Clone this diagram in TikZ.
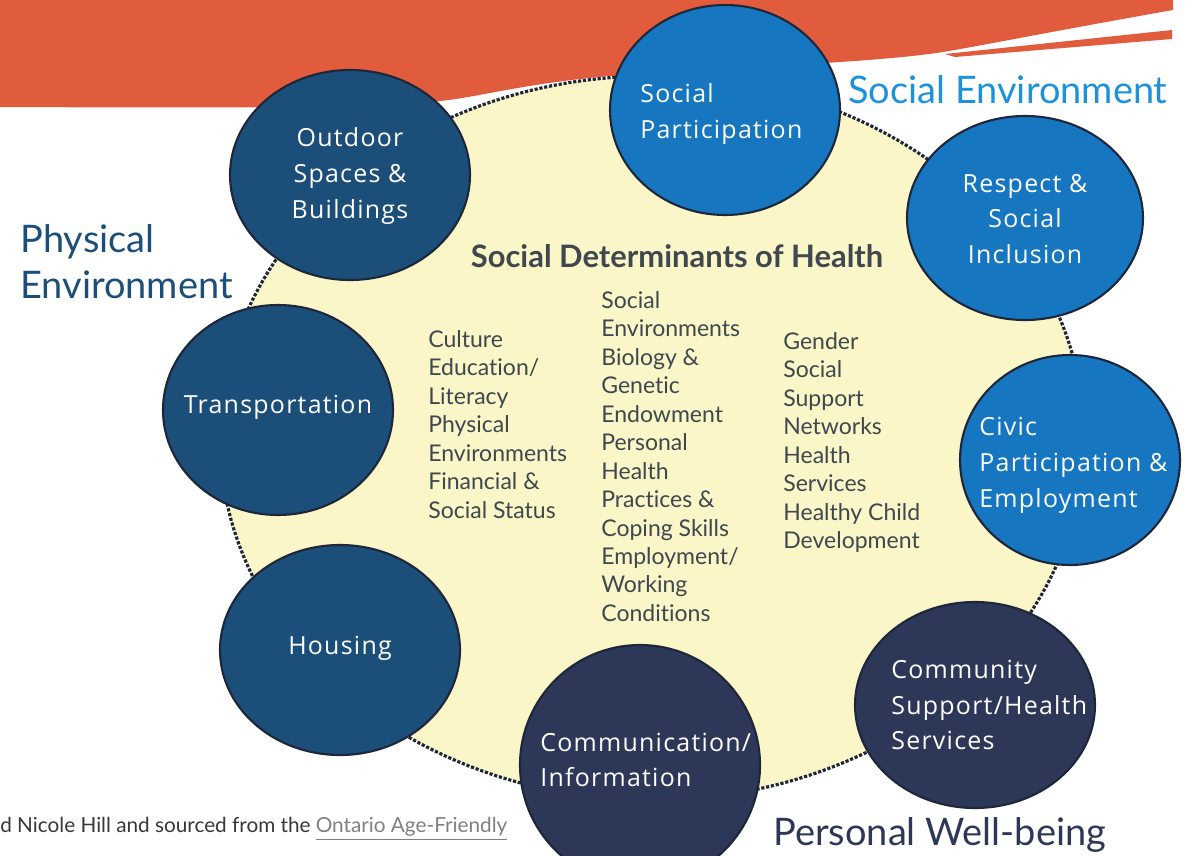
\documentclass[tikz,border=0pt]{standalone}
\usepackage{fontspec}
\setmainfont{Lato}[Ligatures=NoCommon]
\newfontfamily\ringfont[LetterSpace=5]{Open Sans}
\usepackage{tikz}
\usepackage{xcolor}
\definecolor{banner}{RGB}{224,92,60}
\definecolor{paleyellow}{RGB}{250,246,200}
\definecolor{physblue}{RGB}{28,78,122}
\definecolor{socblue}{RGB}{22,118,192}
\definecolor{navy}{RGB}{45,56,88}
\definecolor{rimdark}{RGB}{30,38,58}
\definecolor{slate}{RGB}{62,72,78}
\definecolor{skyline}{RGB}{30,145,220}
\definecolor{notegrey}{RGB}{55,55,55}

\tikzset{
  ring/.style={draw=rimdark,line width=1.2},
  ringtext/.style={text=white,inner sep=0,font=\ringfont\fontsize{14.2}{20.4}\selectfont},
  coltext/.style={text=slate,inner sep=0,anchor=north west,align=left,
    font=\fontsize{13.1}{16.2}\selectfont},
  grouptext/.style={inner sep=0,anchor=west,align=left,font=\fontsize{21.6}{26}\selectfont}
}

\begin{document}
\begin{tikzpicture}[x=0.02cm,y=-0.02cm]
  \useasboundingbox (0,0) rectangle (1189,855);
  \clip (0,0) rectangle (1189,855);
  % banner across the top
  \fill[banner] (0,0) -- (1173,0) -- (1173,10)
    .. controls (1060,30) and (990,44) .. (943,52)
    .. controls (880,62) and (760,66) .. (610,76)
    .. controls (520,84) and (480,97) .. (440,101)
    .. controls (360,108) and (250,108) .. (0,107) -- cycle;
  \fill[banner] (945,54) -- (1172,30) -- (1172,39) -- (955,57) -- cycle;

  % the determinants field
  \fill[paleyellow] (652,438) ellipse [x radius=432,y radius=362];
  \draw[rimdark,densely dotted,line width=1.8] (652,438) ellipse [x radius=432,y radius=362];

  % physical environment
  \filldraw[ring,fill=physblue] (350,175) ellipse [x radius=120,y radius=105];
  \filldraw[ring,fill=physblue] (278,410) ellipse [x radius=115,y radius=105];
  \filldraw[ring,fill=physblue] (340,650) ellipse [x radius=120,y radius=105];
  % social environment
  \filldraw[ring,fill=socblue] (725,110) ellipse [x radius=115,y radius=105];
  \filldraw[ring,fill=socblue] (1025,218) ellipse [x radius=118,y radius=102];
  \filldraw[ring,fill=socblue] (1070,460) ellipse [x radius=110,y radius=105];
  % personal well-being
  \filldraw[ring,fill=navy] (975,705) ellipse [x radius=120,y radius=103];
  \filldraw[ring,fill=navy] (640,765) ellipse [x radius=120,y radius=120];

  \node[ringtext,align=center] (outdoor) at (350,176) {Outdoor\\Spaces \&\\Buildings};
  \node[ringtext,align=center] (transport) at (278,407) {Transportation};
  \node[ringtext,align=center] (housing) at (340,648) {Housing};
  \node[ringtext,align=left,anchor=west] (participation) at (640,114) {Social\\Participation};
  \node[ringtext,align=center] (respect) at (1025,219) {Respect \&\\Social\\Inclusion};
  \node[ringtext,align=left,anchor=west] (civic) at (979,465) {Civic\\Participation \&\\Employment};
  \node[ringtext,align=left,anchor=west] (community) at (891,705) {Community\\Support/Health\\Services};
  \node[ringtext,align=left,anchor=west] (communication) at (540,760) {Communication/\\Information};

  % determinants
  \node[text=slate,inner sep=0,font=\bfseries\fontsize{17.6}{20}\selectfont] (sdoh) at (677,256)
    {Social Determinants of Health};
  \node[coltext] (colone) at (428,330) {Culture\\Education/\\Literacy\\Physical\\Environments\\Financial \&\\Social Status};
  \node[coltext] (coltwo) at (601,291) {Social\\Environments\\Biology \&\\Genetic\\Endowment\\Personal\\Health\\Practices \&\\Coping Skills\\Employment/\\Working\\Conditions};
  \node[coltext] (colthree) at (783,332) {Gender\\Social\\Support\\Networks\\Health\\Services\\Healthy Child\\Development};

  % group labels
  \node[grouptext,text=physblue] (physical) at (20,262) {Physical\\Environment};
  \node[grouptext,text=skyline] (social) at (848,90) {Social Environment};
  \node[grouptext,text=navy] (personal) at (773,835) {Personal Well-being};

  \node[inner sep=0,anchor=west,text=notegrey,font=\fontsize{11.8}{13}\selectfont] (note) at (0,829)
    {d Nicole Hill and sourced from the \textcolor{gray}{\underline{Ontario Age-Friendly}}};
\end{tikzpicture}
\end{document}
